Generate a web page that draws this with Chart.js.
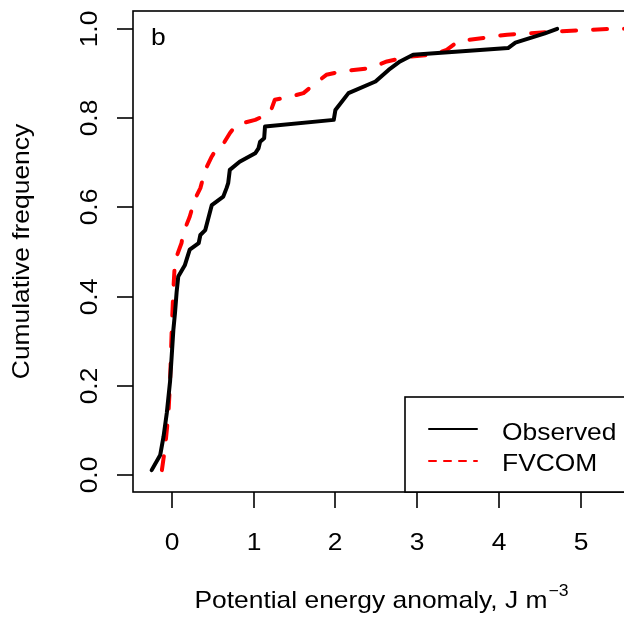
<!DOCTYPE html>
<html>
<head>
<meta charset="utf-8">
<script src="https://cdn.jsdelivr.net/npm/chart.js@4/dist/chart.umd.min.js"></script>
<style>
  html, body { margin: 0; padding: 0; background: #fff; overflow: hidden; }
  #wrap { position: absolute; left: 0; top: 0; width: 640px; height: 620px; }
</style>
</head>
<body>
<div id="wrap"><canvas id="c" width="640" height="620"></canvas></div>
<script>
// ---- data ----
const xTicks = [0, 1, 2, 3, 4, 5];
const xTickLabels = ["0", "1", "2", "3", "4", "5"];
const yTicks = [0, 0.2, 0.4, 0.6, 0.8, 1.0];
const yTickLabels = ["0.0", "0.2", "0.4", "0.6", "0.8", "1.0"];

const observedX = [-0.245, -0.14, -0.10, -0.06, -0.02, 0.02, 0.04, 0.06, 0.08, 0.16, 0.22, 0.33, 0.35, 0.41, 0.49, 0.63, 0.67, 0.69, 0.71, 0.83, 1.02, 1.06, 1.08, 1.13, 1.14, 1.98, 2.00, 2.16, 2.49, 2.65, 2.79, 2.95, 4.11, 4.20, 4.56, 4.71];
const observedY = [0.011, 0.045, 0.086, 0.139, 0.21, 0.325, 0.363, 0.41, 0.445, 0.47, 0.505, 0.52, 0.538, 0.549, 0.605, 0.624, 0.643, 0.654, 0.684, 0.702, 0.721, 0.732, 0.747, 0.755, 0.781, 0.796, 0.818, 0.856, 0.882, 0.908, 0.927, 0.942, 0.957, 0.969, 0.99, 1.0];

const fvcomX = [-0.12, -0.08, -0.04, -0.02, 0.00, 0.02, 0.04, 0.12, 0.14, 0.22, 0.28, 0.35, 0.41, 0.49, 0.55, 0.61, 0.71, 0.79, 1.02, 1.20, 1.26, 1.45, 1.61, 1.73, 1.89, 2.06, 2.42, 2.63, 2.91, 3.20, 3.36, 3.50, 4.10, 4.70, 5.38, 5.55];
const fvcomY = [0.011, 0.063, 0.138, 0.21, 0.325, 0.415, 0.48, 0.52, 0.542, 0.579, 0.617, 0.643, 0.684, 0.714, 0.732, 0.736, 0.766, 0.785, 0.796, 0.811, 0.841, 0.848, 0.856, 0.874, 0.897, 0.904, 0.912, 0.927, 0.938, 0.942, 0.953, 0.972, 0.987, 0.994, 1.0, 1.0];

const seriesNames = ["Observed", "FVCOM"];
const panelLabel = "b";
const yTitle = "Cumulative frequency";
const xTitleMain = "Potential energy anomaly, J m";
const xTitleSup = "\u22123";

const toPts = (xs, ys) => xs.map((x, i) => ({ x: x, y: ys[i] }));

const FONT = '"Liberation Sans", Arial, Helvetica, sans-serif';
const SX = 1.1; // horizontal stretch to mimic the wider R Helvetica rendering

function txt(ctx, s, x, y, size, align, rot) {
  ctx.save();
  ctx.translate(x, y);
  if (rot) ctx.rotate(rot);
  ctx.scale(SX, 1);
  ctx.font = size + 'px ' + FONT;
  ctx.textAlign = align;
  ctx.textBaseline = 'alphabetic';
  ctx.fillText(s, 0, 0);
  ctx.restore();
}
function tw(ctx, s, size) {
  ctx.save();
  ctx.font = size + 'px ' + FONT;
  const w = ctx.measureText(s).width * SX;
  ctx.restore();
  return w;
}

const rDecor = {
  id: 'rDecor',
  afterDraw(chart) {
    const ctx = chart.ctx;
    const a = chart.chartArea;
    const xs = chart.scales.x, ys = chart.scales.y;
    ctx.save();
    ctx.strokeStyle = '#000';
    ctx.fillStyle = '#000';
    ctx.lineWidth = 1.6;
    // frame
    ctx.strokeRect(a.left, a.top, a.right - a.left, a.bottom - a.top);
    // x ticks
    xTicks.forEach((v, i) => {
      const px = Math.round(xs.getPixelForValue(v));
      ctx.beginPath(); ctx.moveTo(px, a.bottom); ctx.lineTo(px, a.bottom + 16); ctx.stroke();
      txt(ctx, xTickLabels[i], px, 550, 24, 'center');
    });
    // y ticks (rotated labels)
    yTicks.forEach((v, i) => {
      const py = Math.round(ys.getPixelForValue(v));
      ctx.beginPath(); ctx.moveTo(a.left, py); ctx.lineTo(a.left - 16, py); ctx.stroke();
      txt(ctx, yTickLabels[i], 97, py, 24, 'center', -Math.PI / 2);
    });
    // y title
    txt(ctx, yTitle, 29, (a.top + a.bottom) / 2, 24, 'center', -Math.PI / 2);
    // x title with superscript
    const wMain = tw(ctx, xTitleMain, 24);
    const wSup = tw(ctx, xTitleSup, 16);
    const total = wMain + wSup + 1;
    const cx = (a.left + a.right) / 2;
    const x0 = cx - total / 2;
    txt(ctx, xTitleMain, x0, 608, 24, 'left');
    txt(ctx, xTitleSup, x0 + wMain + 1, 596, 16, 'left');
    // panel label
    txt(ctx, panelLabel, 151, 45, 24, 'left');
    // legend box
    const lx = 405, ly = 397;
    ctx.fillStyle = '#fff';
    ctx.fillRect(lx, ly, a.right - lx, a.bottom - ly);
    ctx.strokeRect(lx, ly, a.right - lx, a.bottom - ly);
    ctx.lineWidth = 2;
    ctx.lineCap = 'round';
    ctx.strokeStyle = '#000';
    ctx.beginPath(); ctx.moveTo(429, 429); ctx.lineTo(477, 429); ctx.stroke();
    ctx.strokeStyle = '#ff0000';
    ctx.setLineDash([7, 8]);
    ctx.beginPath(); ctx.moveTo(429, 461); ctx.lineTo(477, 461); ctx.stroke();
    ctx.setLineDash([]);
    ctx.fillStyle = '#000';
    txt(ctx, seriesNames[0], 502, 440, 24, 'left');
    txt(ctx, seriesNames[1], 502, 471, 24, 'left');
    ctx.restore();
  }
};

new Chart(document.getElementById('c'), {
  type: 'line',
  data: {
    datasets: [
      {
        label: seriesNames[0],
        data: toPts(observedX, observedY),
        borderColor: '#000000',
        borderWidth: 4,
        borderCapStyle: 'round',
        borderJoinStyle: 'round',
        pointRadius: 0,
        tension: 0,
        fill: false
      },
      {
        label: seriesNames[1],
        data: toPts(fvcomX, fvcomY),
        borderColor: '#ff0000',
        borderWidth: 4,
        borderDash: [14, 17],
        borderCapStyle: 'round',
        borderJoinStyle: 'round',
        pointRadius: 0,
        tension: 0,
        fill: false
      }
    ]
  },
  options: {
    responsive: false,
    animation: false,
    devicePixelRatio: 1,
    layout: { padding: { left: 133, top: 11, right: 10, bottom: 128 } },
    plugins: { legend: { display: false }, tooltip: { enabled: false } },
    scales: {
      x: {
        type: 'linear', min: -0.473, max: 5.60, display: false
      },
      y: {
        type: 'linear', min: -0.038, max: 1.040, display: false
      }
    }
  },
  plugins: [rDecor]
});
</script>
</body>
</html>
